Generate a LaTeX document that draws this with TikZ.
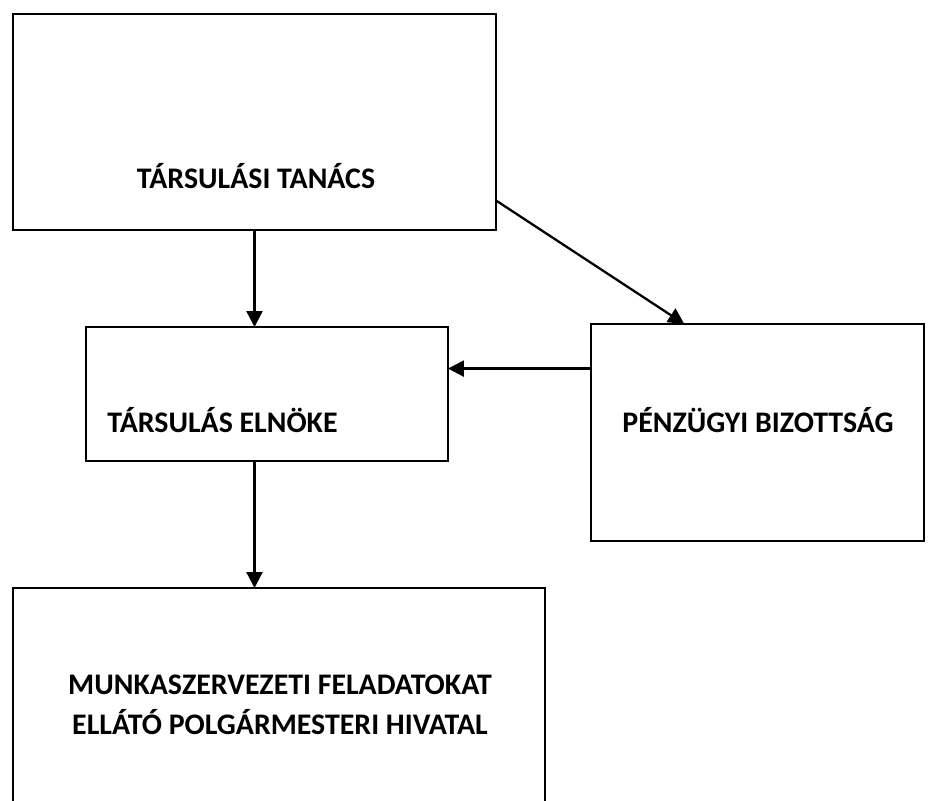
\documentclass[tikz,border=0pt]{standalone}
\usepackage{fontspec}
\setmainfont{Carlito}
\usetikzlibrary{arrows.meta}

\begin{document}
\begin{tikzpicture}
  [x=0.02cm,y=-0.02cm,
   box/.style={draw,line width=1.5pt,inner sep=0pt,outer sep=0pt},
   lbl/.style={font=\fontsize{17}{20}\selectfont\bfseries,inner sep=0pt},
   arr/.style={line width=1.3pt,-{Triangle[width=0.32cm,length=0.32cm]}}]

  \useasboundingbox (0,0) rectangle (931,801);
  \clip (0,0) rectangle (931,801);

  \node[box,minimum width=9.66cm,minimum height=4.32cm] (tanacs) at (254.5,122) {};
  \node[box,minimum width=7.24cm,minimum height=2.68cm] (elnok) at (267,394) {};
  \node[box,minimum width=6.66cm,minimum height=4.34cm] (bizottsag) at (757.5,432.5) {};
  \node[box,minimum width=10.64cm,minimum height=4.84cm] (hivatal) at (279,709) {};

  \node[lbl,anchor=base] (tanacs-t) at (256,188) {TÁRSULÁSI TANÁCS};
  \node[lbl,anchor=base west] (elnok-t) at (107,432) {TÁRSULÁS ELNÖKE};
  \node[lbl,anchor=base] (bizottsag-t) at (758,432) {PÉNZÜGYI BIZOTTSÁG};
  \node[lbl,anchor=base] (hivatal-t1) at (280,694) {MUNKASZERVEZETI FELADATOKAT};
  \node[lbl,anchor=base] (hivatal-t2) at (280,734) {ELLÁTÓ POLGÁRMESTERI HIVATAL};

  \draw[arr] (tanacs.south) -- (elnok.north -| tanacs.south);
  \draw[arr] (tanacs.-18.3) -- (bizottsag.124.8);
  \draw[arr] (bizottsag.159.1) -- (bizottsag.159.1 -| elnok.east);
  \draw[arr] (elnok.south -| tanacs.south) -- (hivatal.north -| tanacs.south);
\end{tikzpicture}
\end{document}
